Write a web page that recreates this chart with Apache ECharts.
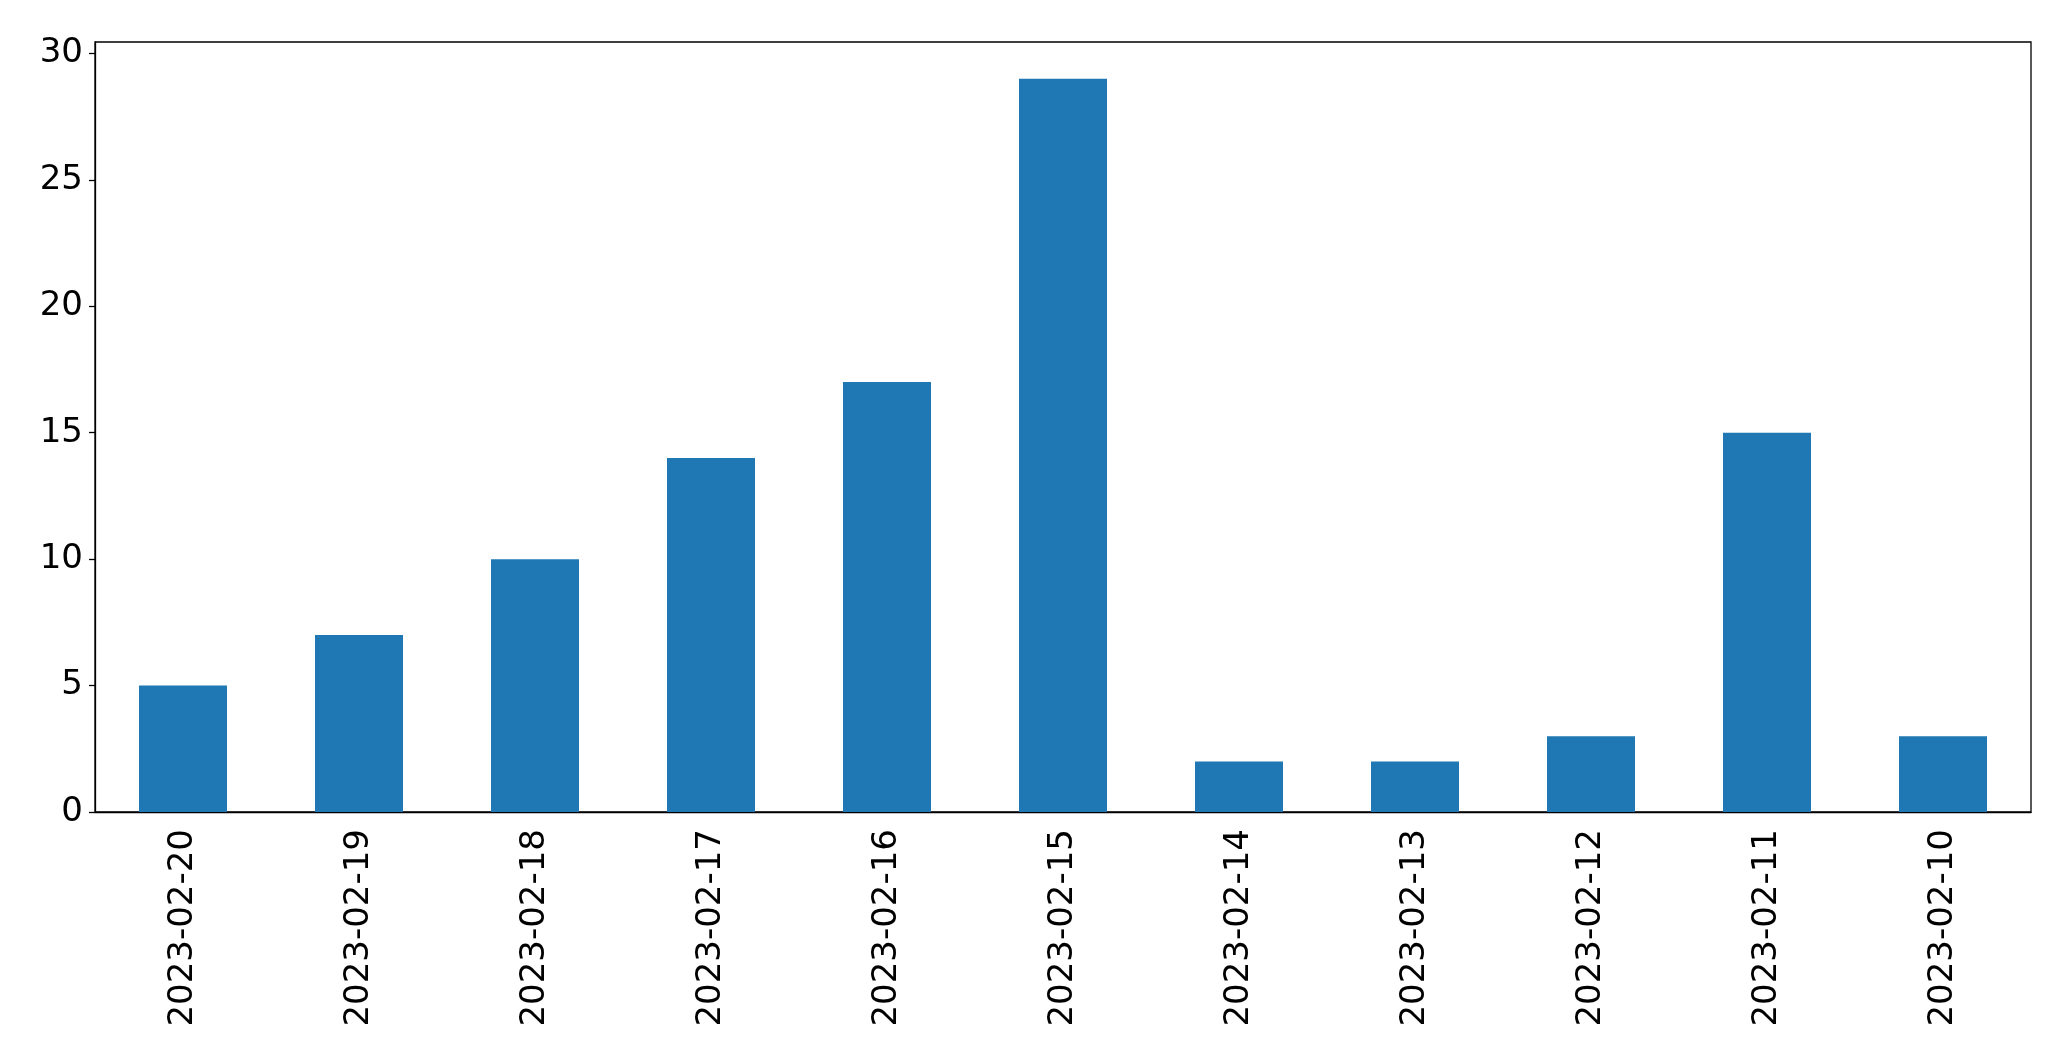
<!DOCTYPE html>
<html><head><meta charset="utf-8">
<script src="https://cdn.jsdelivr.net/npm/echarts@6/dist/echarts.min.js"></script>
<style>html,body{margin:0;padding:0;background:#fff}#c{width:2071px;height:1064px}</style>
</head><body><div id="c"></div>
<script>
const categories = ['2023-02-20','2023-02-19','2023-02-18','2023-02-17','2023-02-16','2023-02-15','2023-02-14','2023-02-13','2023-02-12','2023-02-11','2023-02-10'];
const values = [5, 7, 10, 14, 17, 29, 2, 2, 3, 15, 3];
const yTicks = [0, 5, 10, 15, 20, 25, 30];

const chart = echarts.init(document.getElementById('c'), null, {renderer: 'canvas'});
const font = 'DejaVu Sans';
chart.setOption({
  animation: false,
  grid: {left: 95, right: 40, top: 42, bottom: 252, show: true, borderColor: '#000', borderWidth: 1.3, backgroundColor: 'transparent'},
  xAxis: {
    type: 'category', data: categories, boundaryGap: true,
    axisLine: {lineStyle: {color: '#000', width: 1.3}},
    axisTick: {alignWithLabel: true, length: 6, lineStyle: {color: '#000', width: 1.3}},
    axisLabel: {rotate: 90, margin: 17, color: '#000', fontFamily: font, fontSize: 34, interval: 0}
  },
  yAxis: {
    type: 'value', min: 0, max: 30.45,
    splitLine: {show: false},
    axisLine: {show: true, lineStyle: {color: '#000', width: 1.3}},
    axisTick: {show: true, length: 6, customValues: yTicks, lineStyle: {color: '#000', width: 1.3}},
    axisLabel: {customValues: yTicks, margin: 12, color: '#000', fontFamily: font, fontSize: 34}
  },
  series: [{type: 'bar', data: values, barWidth: '50%', itemStyle: {color: '#1f77b4'}}]
});
</script></body></html>
